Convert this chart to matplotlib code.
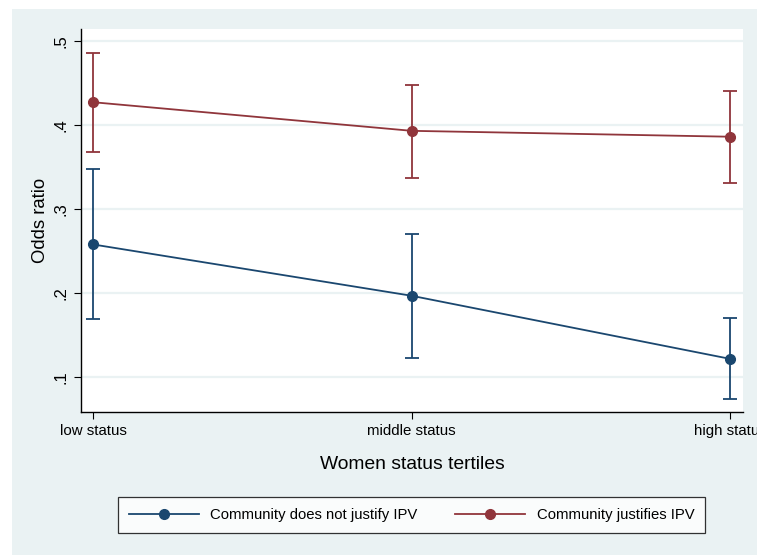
import numpy as np
import matplotlib.pyplot as plt
from matplotlib.patches import Rectangle

plt.rcParams['font.family'] = ['Liberation Sans', 'DejaVu Sans']

# data
tertiles = ['low status', 'middle status', 'high status']
not_justify = [0.258, 0.197, 0.122]
not_justify_lo = [0.169, 0.123, 0.074]
not_justify_hi = [0.348, 0.270, 0.171]
justify = [0.427, 0.393, 0.386]
justify_lo = [0.368, 0.337, 0.331]
justify_hi = [0.485, 0.448, 0.440]

navy = '#1a476f'
maroon = '#90353b'
bg = '#eaf2f3'

W, H = 757, 555
fig = plt.figure(figsize=(W / 100, H / 100), dpi=100)
fig.patch.set_facecolor('white')
fig.patches.append(Rectangle((12 / W, 0), 1, (H - 9) / H, transform=fig.transFigure,
                             facecolor=bg, edgecolor='none', zorder=-10))

ax = fig.add_axes([81 / W, (H - 411.5) / H, (743 - 81) / W, (411.5 - 29) / H])
ax.set_facecolor('white')

x = np.arange(len(tertiles))


def draw(vals, lo, hi, col, lab):
    vals = np.array(vals)
    err = [vals - np.array(lo), np.array(hi) - vals]
    ax.errorbar(x, vals, yerr=err, fmt='none', ecolor=col, elinewidth=1.3,
                capsize=5, capthick=1.3, zorder=3)
    ax.plot(x, vals, '-o', color=col, lw=1.3, ms=7, label=lab, zorder=4)


draw(not_justify, not_justify_lo, not_justify_hi, navy, 'Community does not justify IPV')
draw(justify, justify_lo, justify_hi, maroon, 'Community justifies IPV')

ax.set_xlim(-0.038, 2.04)
ax.set_ylim(0.0595, 0.514)
ax.set_yticks([0.1, 0.2, 0.3, 0.4, 0.5])
ax.set_yticklabels(['.1', '.2', '.3', '.4', '.5'], rotation=90, va='center', fontsize=12)
ax.set_xticks(x)
ax.set_xticklabels(tertiles, fontsize=10.8)
ax.grid(axis='y', color=bg, lw=1.6, zorder=0)
ax.set_axisbelow(True)
for s in ['top', 'right']:
    ax.spines[s].set_visible(False)
ax.spines['left'].set_linewidth(1)
ax.spines['bottom'].set_linewidth(1)
ax.tick_params(length=5, width=0.8, pad=4)
ax.set_ylabel('Odds ratio', fontsize=13.3, labelpad=3)
ax.set_xlabel('Women status tertiles', fontsize=13.9, labelpad=13)

leg = fig.legend(loc='center', bbox_to_anchor=(411.5 / W, (H - 515) / H),
                 ncol=2, fontsize=10.7, frameon=True, fancybox=False,
                 edgecolor='black', handlelength=4.7, handletextpad=0.8,
                 columnspacing=2.5, borderpad=0.75, borderaxespad=0)
leg.get_frame().set_linewidth(0.9)

fig.savefig('out.png', dpi=100)
